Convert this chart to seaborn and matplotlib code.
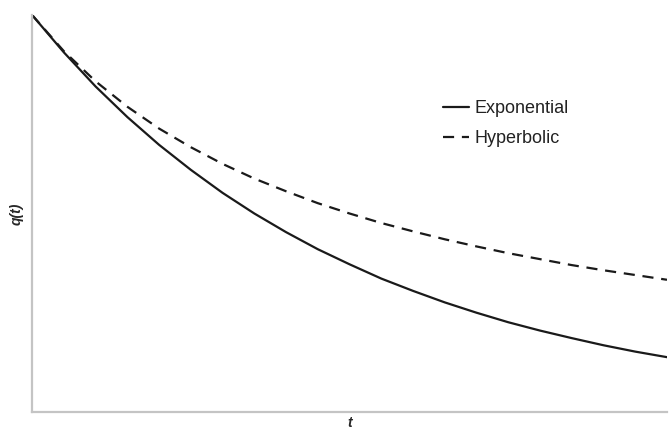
import matplotlib
matplotlib.use("Agg")
import matplotlib.pyplot as plt
import pandas as pd
import seaborn as sns

# values (t in arbitrary units, q normalised to q(0)=1)
t = [0.0, 0.5, 1.0, 1.5, 2.0, 2.5, 3.0, 3.5, 4.0, 4.5, 5.0,
     5.5, 6.0, 6.5, 7.0, 7.5, 8.0, 8.5, 9.0, 9.5, 10.0]
exponential = [1.000, 0.906, 0.820, 0.743, 0.673, 0.610, 0.552, 0.500, 0.453, 0.410, 0.372,
               0.336, 0.305, 0.276, 0.250, 0.226, 0.205, 0.186, 0.168, 0.152, 0.138]
hyperbolic = [1.000, 0.909, 0.833, 0.769, 0.714, 0.667, 0.625, 0.588, 0.556, 0.526, 0.500,
              0.476, 0.455, 0.435, 0.417, 0.400, 0.385, 0.370, 0.357, 0.345, 0.333]
series = ["Exponential", "Hyperbolic"]

df = pd.concat([
    pd.DataFrame({"t": t, "q": exponential, "curve": series[0]}),
    pd.DataFrame({"t": t, "q": hyperbolic, "curve": series[1]}),
])

sns.set_style("white")
plt.rcParams["font.family"] = ["Liberation Sans", "DejaVu Sans"]

fig = plt.figure(figsize=(6.69, 4.30), dpi=100)
ax = fig.add_axes([0.048, 0.042, 0.949, 0.923])

sns.lineplot(data=df, x="t", y="q", style="curve", style_order=series,
             dashes={"Exponential": "", "Hyperbolic": (5, 3.5)},
             color="#1a1a1a", linewidth=1.6, ax=ax)

ax.set_xlim(0, 10)
ax.set_ylim(0, 1)
ax.set_xticks([])
ax.set_yticks([])
sns.despine(ax=ax)
for side in ["left", "bottom"]:
    ax.spines[side].set_color("#c4c4c4")
    ax.spines[side].set_linewidth(1.6)

ax.set_xlabel("t", fontsize=10, fontweight="bold", fontstyle="italic", labelpad=3)
ax.set_ylabel("q(t)", fontsize=10, fontweight="bold", fontstyle="italic", labelpad=6)

leg = ax.legend(loc="upper left", bbox_to_anchor=(0.647, 0.785), frameon=False,
                fontsize=13, handlelength=1.45, handletextpad=0.3,
                labelspacing=0.72, borderpad=0, borderaxespad=0)
for line in leg.get_lines():
    line.set_linewidth(1.6)
for txt in leg.get_texts():
    txt.set_color("#222222")

fig.savefig("out.png", dpi=100)
